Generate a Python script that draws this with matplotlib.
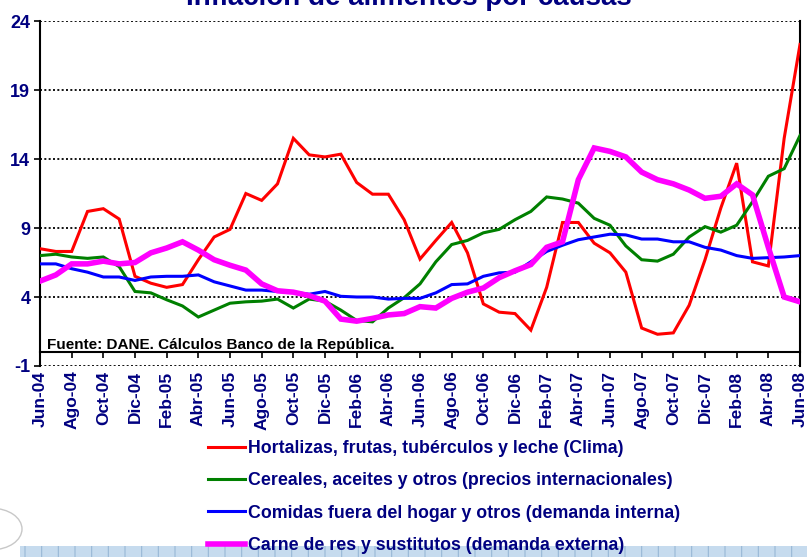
import matplotlib
matplotlib.use('Agg')
import matplotlib.pyplot as plt
from matplotlib.patches import Rectangle, Circle
import numpy as np

plt.rcParams['font.family'] = ['Liberation Sans', 'DejaVu Sans']
plt.rcParams['hatch.linewidth'] = 0.8

# ---- data (monthly, Jun-04 .. Jun-08) ----
tick_labels = ['Jun-04', 'Ago-04', 'Oct-04', 'Dic-04', 'Feb-05', 'Abr-05', 'Jun-05',
               'Ago-05', 'Oct-05', 'Dic-05', 'Feb-06', 'Abr-06', 'Jun-06', 'Ago-06',
               'Oct-06', 'Dic-06', 'Feb-07', 'Abr-07', 'Jun-07', 'Ago-07', 'Oct-07',
               'Dic-07', 'Feb-08', 'Abr-08', 'Jun-08']

hortalizas = [7.5, 7.3, 7.3, 10.2, 10.4, 9.65, 5.5, 5.0, 4.7, 4.9, 6.7, 8.35, 8.9,
              11.5, 11.0, 12.2, 15.5, 14.3, 14.15, 14.35, 12.3, 11.45, 11.45, 9.6,
              6.75, 8.1, 9.4, 7.2, 3.5, 2.9, 2.8, 1.6, 4.7, 9.4, 9.4, 7.9, 7.2, 5.8,
              1.75, 1.3, 1.4, 3.4, 6.7, 10.45, 13.7, 6.55, 6.25, 15.5, 22.3]

cereales = [7.0, 7.1, 6.9, 6.8, 6.9, 6.2, 4.4, 4.3, 3.8, 3.35, 2.55, 3.05, 3.55,
            3.65, 3.7, 3.85, 3.2, 3.85, 3.7, 3.05, 2.3, 2.2, 3.2, 3.95, 4.95, 6.55,
            7.8, 8.1, 8.65, 8.9, 9.6, 10.2, 11.25, 11.1, 10.8, 9.7, 9.2, 7.7, 6.7,
            6.6, 7.1, 8.35, 9.1, 8.7, 9.2, 10.9, 12.75, 13.3, 15.7]

comidas = [6.4, 6.4, 6.05, 5.8, 5.45, 5.45, 5.2, 5.45, 5.5, 5.5, 5.6, 5.1, 4.8,
           4.5, 4.5, 4.4, 4.35, 4.2, 4.4, 4.05, 4.0, 4.0, 3.85, 3.9, 3.9, 4.3, 4.9,
           4.95, 5.5, 5.75, 5.8, 6.55, 7.3, 7.75, 8.15, 8.35, 8.55, 8.5, 8.2, 8.2,
           8.0, 8.0, 7.6, 7.4, 7.0, 6.8, 6.85, 6.9, 7.0]

carne = [5.15, 5.6, 6.4, 6.4, 6.6, 6.4, 6.5, 7.2, 7.55, 8.0, 7.4, 6.7, 6.3, 5.95,
         4.95, 4.45, 4.35, 4.1, 3.7, 2.4, 2.25, 2.45, 2.7, 2.8, 3.3, 3.2, 3.9, 4.35,
         4.65, 5.4, 5.9, 6.35, 7.6, 8.0, 12.5, 14.8, 14.55, 14.15, 13.05, 12.5, 12.2,
         11.75, 11.15, 11.3, 12.2, 11.4, 7.6, 4.0, 3.65]

series_labels = ['Hortalizas, frutas, tubérculos y leche (Clima)',
                 'Cereales, aceites y otros (precios internacionales)',
                 'Comidas fuera del hogar y otros (demanda interna)',
                 'Carne de res y sustitutos (demanda externa)']
series_colors = ['#FF0000', '#008000', '#0000FF', '#FF00FF']
series_widths = [2.2, 2.2, 2.2, 4.0]
yticks = [-1, 4, 9, 14, 19, 24]

navy = '#000080'

fig = plt.figure(figsize=(8.07, 5.57), dpi=100)
fig.patch.set_facecolor('white')
ax = fig.add_axes([40 / 807, 191 / 557, 760 / 807, 345 / 557])

x = np.arange(len(hortalizas))
handles = []
for data, lab, col, lw in zip([hortalizas, cereales, comidas, carne],
                              series_labels, series_colors, series_widths):
    h, = ax.plot(x, data, color=col, lw=lw, label=lab, zorder=3,
                 solid_joinstyle='miter')
    handles.append(h)

ax.set_xlim(0, len(hortalizas) - 1)
ax.set_ylim(-1, 24)

for v in yticks:
    ax.axhline(v, color='black', lw=1.3, ls=(0, (1.1, 1.3)), zorder=1)

ax.spines['top'].set_visible(False)
for s in ['left', 'right', 'bottom']:
    ax.spines[s].set_linewidth(1.5)
    ax.spines[s].set_color('black')
ax.spines['bottom'].set_position(('data', 0))

ax.set_xticks(np.arange(0, len(hortalizas), 2))
ax.set_xticklabels(tick_labels, rotation=90, fontweight='bold', color=navy)
ax.tick_params(axis='x', direction='out', length=4.5, width=1.2, pad=8.8,
               labelsize=12.5, color='black')
ax.set_yticks(yticks)
ax.set_yticklabels([str(v) for v in yticks], fontweight='bold', color=navy)
ax.tick_params(axis='y', direction='out', length=4, width=1.2, pad=3,
               labelsize=13, color='black')

ax.text(0.45, 0.2, 'Fuente: DANE. Cálculos Banco de la República.',
        fontsize=11, fontweight='bold', color='black', va='baseline', zorder=4)

fig.text(0.507, 1 - 5 / 557, 'Inflación de alimentos por causas', ha='center',
         va='baseline', fontsize=20, fontweight='bold', color=navy)

fig.legend(handles, series_labels, loc='upper left',
           bbox_to_anchor=(208 / 807, 1 - 440 / 557), frameon=False,
           prop={'weight': 'bold', 'size': 12.8}, labelcolor=navy,
           handlelength=2.1, handletextpad=0.15, labelspacing=0.86,
           borderpad=0, borderaxespad=0)

# decorative strip at the bottom of the slide
fig.patches.append(Rectangle((20 / 807, 0), 1 - 20 / 807, 11 / 557,
                             transform=fig.transFigure, facecolor='#c6dbee',
                             edgecolor='#98b8d6', hatch='+', lw=0, zorder=0))
fig.patches.append(Circle((-8 / 807, 28 / 557), 30 / 807, transform=fig.transFigure,
                          facecolor='none', edgecolor='#c8c8c8', lw=1.0))

fig.savefig('out.png', dpi=100, facecolor='white')
